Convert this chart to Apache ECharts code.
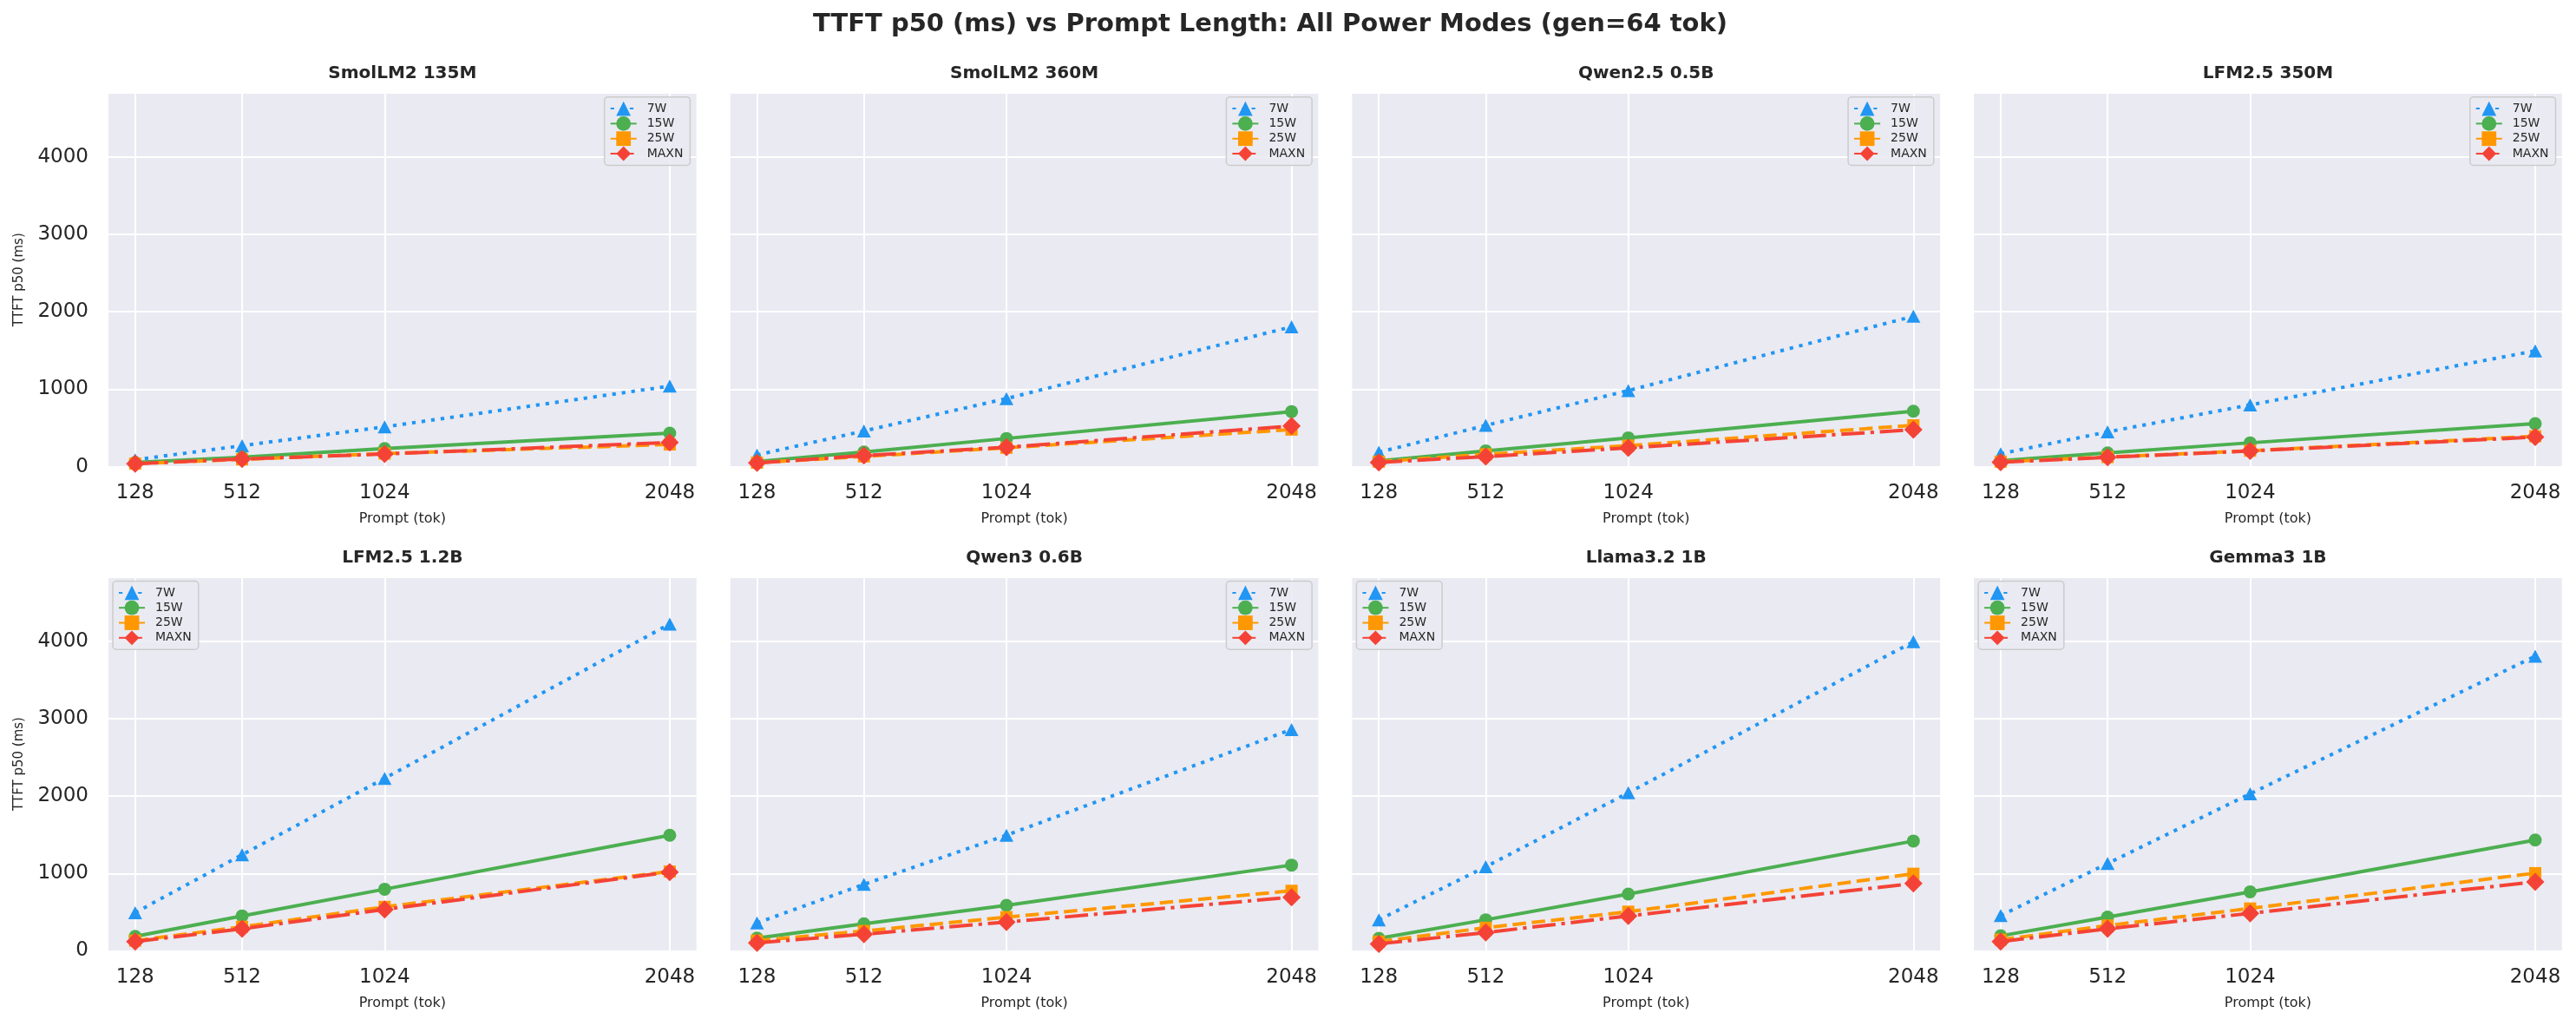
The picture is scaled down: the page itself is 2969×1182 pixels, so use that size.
<!DOCTYPE html>
<html>
<head>
<meta charset="utf-8">
<title>TTFT p50 vs Prompt Length</title>
<script src="https://cdn.jsdelivr.net/npm/echarts@6/dist/echarts.min.js"></script>
<style>
  html, body { margin: 0; padding: 0; background: #fff; }
  #chart { width: 2969px; height: 1182px; }
</style>
</head>
<body>
<div id="chart"></div>
<script>
// data (ms)
var models = ['SmolLM2 135M', 'SmolLM2 360M', 'Qwen2.5 0.5B', 'LFM2.5 350M',
              'LFM2.5 1.2B', 'Qwen3 0.6B', 'Llama3.2 1B', 'Gemma3 1B'];
var promptLens = [128, 512, 1024, 2048];
var powerModes = ['7W', '15W', '25W', 'MAXN'];

var ttft7W = [
    [90, 272, 515, 1041],
    [152, 462, 880, 1807],
    [187, 534, 983, 1943],
    [168, 450, 798, 1496],
    [494, 1241, 2228, 4220],
    [361, 859, 1494, 2859],
    [402, 1087, 2041, 3992],
    [456, 1129, 2029, 3805]
];
var ttft15W = [
    [55, 123, 235, 434],
    [66, 189, 365, 712],
    [75, 205, 373, 717],
    [77, 178, 309, 556],
    [187, 452, 797, 1494],
    [166, 349, 589, 1108],
    [162, 402, 734, 1419],
    [195, 436, 763, 1432]
];
var ttft25W = [
    [40, 95, 170, 288],
    [52, 133, 245, 480],
    [65, 160, 272, 535],
    [65, 125, 207, 394],
    [133, 311, 568, 1025],
    [133, 257, 436, 776],
    [120, 299, 506, 996],
    [145, 328, 548, 1004]
];
var ttftMAXN = [
    [40, 100, 164, 314],
    [50, 144, 252, 525],
    [56, 131, 243, 478],
    [58, 122, 204, 383],
    [120, 286, 535, 1017],
    [104, 216, 373, 693],
    [91, 237, 452, 871],
    [120, 286, 485, 892]
];
var legendOnLeft = [false, false, false, false, true, false, true, true];

// styles
var FONT = 'DejaVu Sans';
var TXT = '#262626';
var modeColors = ['#2196F3', '#4CAF50', '#FF9800', '#F44336'];
var modeSymbols = ['triangle', 'circle', 'rect', 'diamond'];
var modeSymbolSizes = [[16, 15], 15, 14, 21];
var modeDash = [[4.2, 6.9], 'solid', [15.5, 6.7], [26.9, 6.7, 4.2, 6.7]];
var modeData = [ttft7W, ttft15W, ttft25W, ttftMAXN];

// layout (px)
var colLeft = [125, 841.7, 1558.4, 2275.1];
var rowTop = [106.7, 664.5];
var plotW = 677.7, plotH = 431;

function plain(v) { return String(v); }

var grids = [], xAxes = [], yAxes = [], series = [], legends = [], texts = [];

texts.push({
    type: 'text', x: 1464, y: 28,
    style: {
        text: 'TTFT p50 (ms) vs Prompt Length: All Power Modes (gen=64 tok)',
        font: 'bold 29px ' + FONT, fill: TXT,
        textAlign: 'center', textVerticalAlign: 'middle'
    }
});

for (var i = 0; i < models.length; i++) {
    var col = i % 4, row = Math.floor(i / 4);
    var pLeft = colLeft[col], pTop = rowTop[row];

    grids.push({
        left: pLeft, top: pTop, width: plotW, height: plotH,
        show: true, backgroundColor: '#EAEAF2', borderWidth: 0
    });

    texts.push({
        type: 'text', x: pLeft + plotW / 2, y: pTop - 21.5,
        style: {
            text: models[i], font: 'bold 20px ' + FONT, fill: TXT,
            textAlign: 'center', textVerticalAlign: 'middle'
        }
    });

    xAxes.push({
        type: 'value', gridIndex: i, min: 32, max: 2144,
        name: 'Prompt (tok)', nameLocation: 'middle', nameGap: 52,
        nameTextStyle: { fontFamily: FONT, fontSize: 16, color: TXT },
        axisLine: { show: false },
        axisTick: { show: false, customValues: promptLens.slice() },
        axisLabel: {
            customValues: promptLens.slice(), margin: 19, formatter: plain,
            fontFamily: FONT, fontSize: 23, color: TXT
        },
        splitLine: { show: true, lineStyle: { color: '#ffffff', width: 2 } }
    });

    yAxes.push({
        type: 'value', gridIndex: i, min: 0, max: 4830, interval: 1000,
        name: col === 0 ? 'TTFT p50 (ms)' : '',
        nameLocation: 'middle', nameGap: 95,
        nameTextStyle: { fontFamily: FONT, fontSize: 15, color: TXT },
        axisLine: { show: false },
        axisTick: { show: false },
        axisLabel: {
            show: col === 0, margin: 23, showMaxLabel: false, formatter: plain,
            fontFamily: FONT, fontSize: 23, color: TXT
        },
        splitLine: { show: true, lineStyle: { color: '#ffffff', width: 2 } }
    });

    for (var m = 0; m < powerModes.length; m++) {
        var vals = modeData[m][i];
        series.push({
            name: powerModes[m], type: 'line',
            xAxisIndex: i, yAxisIndex: i,
            data: promptLens.map(function (p, j) { return [p, vals[j]]; }),
            symbol: modeSymbols[m], symbolSize: modeSymbolSizes[m],
            showAllSymbol: true,
            lineStyle: { color: modeColors[m], width: 4, type: modeDash[m] },
            itemStyle: { color: modeColors[m] },
            z: 2 + m,
            silent: true
        });
    }

    var lg = {
        orient: 'vertical', top: pTop + 5,
        data: powerModes.slice(),
        itemWidth: 30, itemHeight: 21, itemGap: 0.5,
        padding: [5, 8, 5, 6],
        backgroundColor: 'rgba(234,234,242,0.85)',
        borderColor: '#cccccc', borderWidth: 1.5, borderRadius: 4,
        selectedMode: false,
        textStyle: { fontFamily: FONT, fontSize: 14, color: TXT, padding: [0, 0, 0, 7] }
    };
    if (legendOnLeft[i]) {
        lg.left = pLeft + 5;
    } else {
        lg.right = 2969 - (pLeft + plotW - 7.3);
    }
    legends.push(lg);
}

var chart = echarts.init(document.getElementById('chart'), null, { renderer: 'canvas' });
chart.setOption({
    animation: false,
    backgroundColor: '#ffffff',
    grid: grids,
    xAxis: xAxes,
    yAxis: yAxes,
    legend: legends,
    series: series,
    graphic: { elements: texts }
});
</script>
</body>
</html>
